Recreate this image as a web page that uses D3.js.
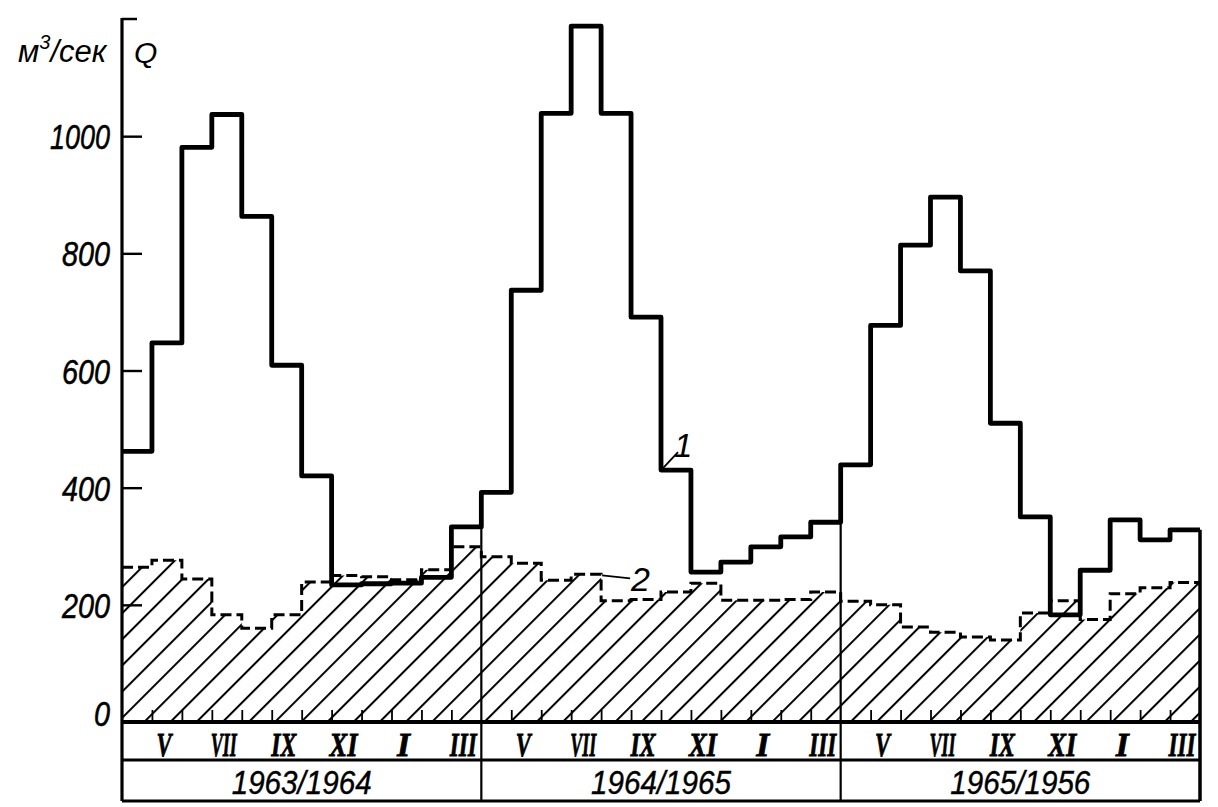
<!DOCTYPE html>
<html><head><meta charset="utf-8">
<script src="https://cdn.jsdelivr.net/npm/d3@7"></script>
<style>body{margin:0;background:#fff} svg{display:block;background:#fff}</style>
</head><body><svg id="c" width="1218" height="807"></svg>
<script>
// ---- data ----
const monthNames = ["IV","V","VI","VII","VIII","IX","X","XI","XII","I","II","III"];
const labeledMonths = ["V","VII","IX","XI","I","III"];
const years = ["1963/1964","1964/1965","1965/1956"];
// curve 1: monthly discharge Q, m3/s (Apr..Mar for each year)
const q1 = [462, 647, 981, 1037, 863, 609, 420, 234, 236, 237, 247, 333,
            392, 737, 1039, 1188, 1039, 691, 430, 256, 273, 299, 316, 341,
            439, 677, 814, 896, 770, 510, 350, 183, 259, 345, 311, 328];
// curve 2 (dashed, hatched below)
const q2 = [264, 276, 244, 183, 160, 183, 239, 250, 248, 243, 260, 299,
            282, 271, 242, 252, 207, 209, 222, 237, 208, 208, 209, 222,
            206, 200, 162, 153, 145, 140, 186, 207, 175, 219, 229, 238];
const yTicks = [0, 200, 400, 600, 800, 1000];

// ---- layout ----
const svg = d3.select("#c");
const x = d3.scaleLinear().domain([0, 36]).range([122, 1200]);
const y = d3.scaleLinear().domain([0, 1200]).range([722, 19]);
const rowMid = 760, rowBot = 801;
const nM = monthNames.length;
const SANS = "Liberation Sans, Arial, sans-serif";

const defs = svg.append("defs");
defs.append("pattern").attr("id", "hatch").attr("patternUnits", "userSpaceOnUse")
  .attr("width", 18.5).attr("height", 18.5).attr("patternTransform", "rotate(45)")
  .append("line").attr("x1", 2).attr("y1", 0).attr("x2", 2).attr("y2", 18.5)
  .attr("stroke", "#000").attr("stroke-width", 2);

const steps = arr => { const p = arr.map((v, i) => [i, v]); p.push([arr.length, arr[arr.length - 1]]); return p; };

// hatched area under curve 2
svg.append("path").datum(steps(q2))
  .attr("d", d3.area().x(d => x(d[0])).y0(y(0)).y1(d => y(d[1])).curve(d3.curveStepAfter))
  .attr("fill", "url(#hatch)");

// dashed curve 2
svg.append("path").datum(steps(q2))
  .attr("d", d3.line().x(d => x(d[0])).y(d => y(d[1])).curve(d3.curveStepAfter))
  .attr("fill", "none").attr("stroke", "#000").attr("stroke-width", 3)
  .attr("stroke-dasharray", "11,5");

// year separators
[1, 2].forEach(k => {
  const i = k * nM;
  svg.append("line").attr("x1", x(i)).attr("x2", x(i))
    .attr("y1", y(Math.min(q1[i - 1], q1[i]))).attr("y2", rowBot)
    .attr("stroke", "#000").attr("stroke-width", 2.2);
});
// right border
svg.append("line").attr("x1", x(36)).attr("x2", x(36))
  .attr("y1", y(q1[35])).attr("y2", rowBot)
  .attr("stroke", "#000").attr("stroke-width", 3.5);

// solid curve 1
svg.append("path").datum(steps(q1))
  .attr("d", d3.line().x(d => x(d[0])).y(d => y(d[1])).curve(d3.curveStepAfter))
  .attr("fill", "none").attr("stroke", "#000").attr("stroke-width", 4.8)
  .attr("stroke-linejoin", "round");

// y axis
const yAx = svg.append("g").attr("transform", `translate(${x(0)},0)`)
  .call(d3.axisLeft(y).tickValues(yTicks).tickFormat(d3.format("d"))
    .tickSizeInner(-20).tickSizeOuter(0).tickPadding(12));
yAx.select(".domain").remove();
yAx.selectAll(".tick line").attr("stroke", "#000").attr("stroke-width", 2.4)
  .attr("display", d => d === 0 ? "none" : null);
yAx.selectAll(".tick text")
  .attr("font-family", SANS).attr("font-style", "italic")
  .attr("font-size", 35).attr("fill", "#000").attr("stroke", "#000").attr("stroke-width", 0.5)
  .attr("dy", d => d === 0 ? "0.1em" : "0.36em")
  .attr("textLength", d => String(d).split("").reduce((s, c) => s + (c === "1" ? 12 : 16), 0))
  .attr("lengthAdjust", "spacingAndGlyphs");
svg.append("line").attr("x1", x(0)).attr("x2", x(0)).attr("y1", y(1200) - 1).attr("y2", rowBot)
  .attr("stroke", "#000").attr("stroke-width", 3.2);
svg.append("line").attr("x1", x(0)).attr("x2", x(0) + 15).attr("y1", y(1200)).attr("y2", y(1200))
  .attr("stroke", "#000").attr("stroke-width", 2.5);

// axis title
const ttl = svg.append("text").attr("x", 18).attr("y", 62)
  .attr("font-family", SANS).attr("font-style", "italic")
  .attr("font-size", 31).attr("fill", "#000");
ttl.append("tspan").text("м");
ttl.append("tspan").attr("font-size", 20).attr("dy", -13).text("3");
ttl.append("tspan").attr("dy", 13).text("/сек");
svg.append("text").attr("x", 134).attr("y", 63)
  .attr("font-family", SANS).attr("font-style", "italic")
  .attr("font-size", 30).attr("fill", "#000").text("Q");

// baseline and table
svg.append("line").attr("x1", x(0)).attr("x2", x(36)).attr("y1", y(0)).attr("y2", y(0))
  .attr("stroke", "#000").attr("stroke-width", 4);
[rowMid, rowBot].forEach(yy => svg.append("line").attr("x1", x(0)).attr("x2", x(36))
  .attr("y1", yy).attr("y2", yy).attr("stroke", "#000").attr("stroke-width", 2.8));

// month ticks
const tickPos = [];
years.forEach((yr, k) => { for (let m = 1; m < nM; m++) tickPos.push(k * nM + m); });
const xAx = svg.append("g").attr("transform", `translate(0,${y(0)})`)
  .call(d3.axisBottom(x).tickValues(tickPos).tickSizeInner(-12).tickSizeOuter(0).tickFormat(""));
xAx.select(".domain").remove();
xAx.selectAll(".tick line").attr("stroke", "#000").attr("stroke-width", 1.8);

// month labels
const mWidth = {"V": 15, "VII": 26, "IX": 25, "XI": 28, "I": 13, "III": 27};
years.forEach((yr, k) => {
  monthNames.forEach((mn, m) => {
    if (!labeledMonths.includes(mn)) return;
    svg.append("text").attr("x", x(k * nM + m + 0.5) - 3).attr("y", 756)
      .attr("text-anchor", "middle")
      .attr("font-family", "Liberation Serif, Times New Roman, serif").attr("font-weight", "bold")
      .attr("font-style", "italic").attr("font-size", 34).attr("fill", "#000")
      .attr("stroke", "#000").attr("stroke-width", 0.8)
      .attr("textLength", mWidth[mn]).attr("lengthAdjust", "spacingAndGlyphs").text(mn);
  });
  svg.append("text").attr("x", x(k * nM + nM / 2)).attr("y", 794)
    .attr("text-anchor", "middle")
    .attr("font-family", SANS).attr("font-style", "italic")
    .attr("font-size", 33).attr("fill", "#000").attr("stroke", "#000").attr("stroke-width", 0.4)
    .attr("textLength", 140).attr("lengthAdjust", "spacingAndGlyphs").text(yr);
});

// curve labels
const a1 = [x(18), y(q1[18])];
svg.append("line").attr("x1", a1[0] + 2).attr("y1", a1[1] - 2).attr("x2", a1[0] + 17).attr("y2", a1[1] - 18)
  .attr("stroke", "#000").attr("stroke-width", 1.8);
svg.append("text").attr("x", a1[0] + 13).attr("y", a1[1] - 13)
  .attr("font-family", SANS).attr("font-style", "italic")
  .attr("font-size", 33).attr("fill", "#000").text("1");
const a2 = [x(16), y(q2[15])];
svg.append("line").attr("x1", a2[0] + 1).attr("y1", a2[1] + 1).attr("x2", a2[0] + 29).attr("y2", a2[1] + 4)
  .attr("stroke", "#000").attr("stroke-width", 1.8);
svg.append("text").attr("x", a2[0] + 30).attr("y", a2[1] + 17)
  .attr("font-family", SANS).attr("font-style", "italic")
  .attr("font-size", 34).attr("fill", "#000").text("2");
</script></body></html>
